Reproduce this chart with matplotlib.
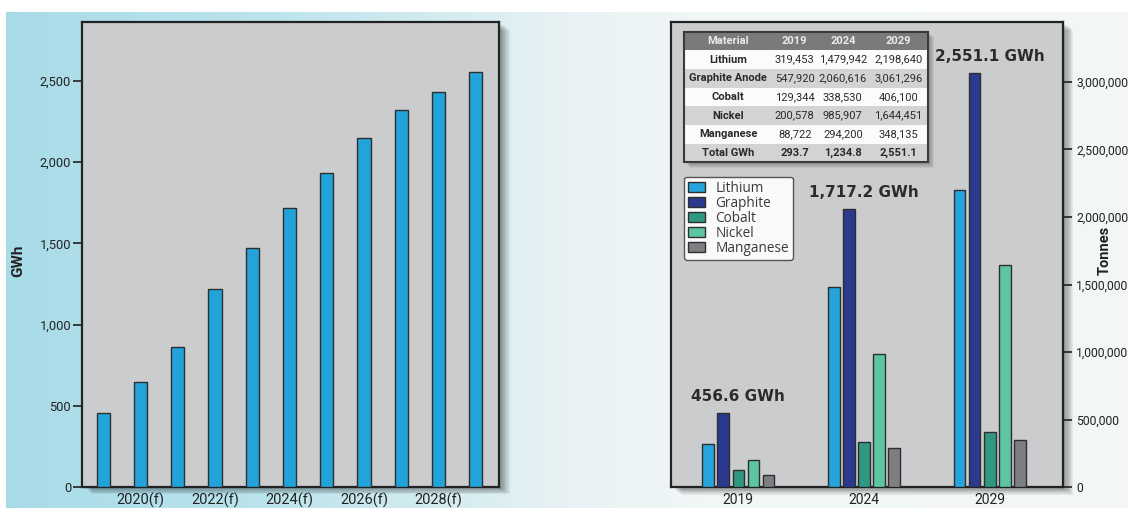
import numpy as np
import matplotlib
matplotlib.use("Agg")
import matplotlib.pyplot as plt
from matplotlib.patches import Rectangle
from matplotlib.ticker import FuncFormatter

# ---- data ----
gwh_years = list(range(2019, 2030))
gwh_demand = [456.6, 647, 862, 1216, 1468, 1717.2, 1934, 2145, 2320, 2429, 2551.1]
gwh_tick_years = [2020, 2022, 2024, 2026, 2028]
gwh_tick_labels = ['2020(f)', '2022(f)', '2024(f)', '2026(f)', '2028(f)']

material_years = ['2019', '2024', '2029']
materials = ['Lithium', 'Graphite Anode', 'Cobalt', 'Nickel', 'Manganese']
legend_labels = ['Lithium', 'Graphite', 'Cobalt', 'Nickel', 'Manganese']
lithium = [319453, 1479942, 2198640]
graphite = [547920, 2060616, 3061296]
cobalt = [129344, 338530, 406100]
nickel = [200578, 985907, 1644451]
manganese = [88722, 294200, 348135]
total_gwh = [293.7, 1234.8, 2551.1]

# ---- style ----
COND = 'Roboto'
INK = '#222222'
PANEL = '#cbccce'
BAR_BLUE = '#22a4da'
EDGE = '#2e2e2e'
series_colors = ['#25a5db', '#2b3a8e', '#2e9882', '#5dc5a2', '#7e7f83']

W, H = 1128, 508
fig = plt.figure(figsize=(W / 100, H / 100), dpi=100)
fig.patch.set_facecolor('white')

# soft blue-to-white backdrop
bg = fig.add_axes([0, 0, 1, 1], zorder=-10)
bg.set_xlim(0, W)
bg.set_ylim(0, H)
bg.axis('off')
xs = np.arange(W)
stops_x = [0, 250, 450, 560, 700, W]
stops_rgb = np.array([(168, 219, 232), (186, 227, 236), (213, 236, 240),
                      (232, 242, 244), (241, 246, 247), (243, 247, 248)])
grad = np.stack([np.interp(xs, stops_x, stops_rgb[:, c]) for c in range(3)], axis=-1) / 255.0
bg.imshow(grad[None, :, :], extent=(6, W, 0, H - 12), aspect='auto', interpolation='bilinear')


def px_axes(x0, y0_top, x1, y1_bottom):
    return fig.add_axes([x0 / W, (H - y1_bottom) / H, (x1 - x0) / W, (y1_bottom - y0_top) / H])


def drop_shadow(ax, steps=9, dx=1.15, dy=0.8, alpha=0.05):
    bb = ax.get_position()
    for k in range(1, steps + 1):
        fig.add_artist(Rectangle((bb.x0 + k * dx / W, bb.y0 - k * dy / H), bb.width, bb.height,
                                 transform=fig.transFigure, facecolor='black', alpha=alpha,
                                 edgecolor='none', zorder=-5))


def style_frame(ax):
    ax.set_facecolor(PANEL)
    for s in ax.spines.values():
        s.set_color(INK)
        s.set_linewidth(1.6)


thousands = FuncFormatter(lambda v, p: f"{int(v):,}")

# ---- left panel: total GWh ----
axL = px_axes(81.8, 22.3, 499.3, 487.0)
style_frame(axL)
drop_shadow(axL)
axL.bar(gwh_years, gwh_demand, width=0.355, color=BAR_BLUE, edgecolor=EDGE, linewidth=1.0, zorder=3)
axL.set_xlim(gwh_years[0] - 0.575, gwh_years[-1] + 0.63)
axL.set_ylim(0, 2860)
axL.set_yticks([0, 500, 1000, 1500, 2000, 2500])
axL.yaxis.set_major_formatter(thousands)
axL.set_xticks(gwh_tick_years)
axL.set_xticklabels(gwh_tick_labels)
axL.tick_params(axis='y', direction='out', length=6.2, width=1.2, pad=1.5, colors=INK,
                labelsize=9.3, labelfontfamily=COND)
axL.tick_params(axis='x', length=0, pad=4, colors=INK, labelsize=10.5, labelfontfamily=COND)
axL.set_ylabel('GWh', fontfamily=COND, fontweight='bold', fontsize=11, color=INK)
axL.yaxis.set_label_coords(-0.136, 0.486)

# ---- right panel: material tonnes ----
axR = px_axes(671.2, 22.3, 1062.9, 487.3)
style_frame(axR)
drop_shadow(axR)
series = [lithium, graphite, cobalt, nickel, manganese]
groups = np.arange(len(material_years))
offsets = (np.arange(len(series)) - 2) * 0.12
handles = []
for vals, off, col in zip(series, offsets, series_colors):
    h = axR.bar(groups + off, vals, width=0.092, color=col, edgecolor=EDGE, linewidth=1.0, zorder=3)
    handles.append(h)
axR.set_xlim(-0.534, 2.582)
axR.set_ylim(0, 3.44e6)
axR.set_xticks(groups)
axR.set_xticklabels(material_years)
axR.yaxis.tick_right()
axR.set_yticks([0, 500000, 1000000, 1500000, 2000000, 2500000, 3000000])
axR.yaxis.set_major_formatter(thousands)
axR.tick_params(axis='y', direction='out', length=6.5, width=1.2, pad=3.0, colors=INK,
                labelsize=8.7, labelfontfamily=COND, left=False, right=True)
axR.tick_params(axis='x', length=0, pad=4, colors=INK, labelsize=10, labelfontfamily=COND)
axR.yaxis.set_label_position('right')
axR.set_ylabel('Tonnes', fontfamily=COND, fontweight='bold', fontsize=10.5, color=INK)
axR.yaxis.set_label_coords(1.0896, 0.51)

# GWh callouts above each group, taken from the demand series
for i, yr in enumerate(material_years):
    val = gwh_demand[gwh_years.index(int(yr))]
    axR.annotate(f"{val:,.1f} GWh", xy=(groups[i], graphite[i]), xytext=(0, 12),
                 textcoords='offset points', ha='center', va='center',
                 fontsize=11, fontweight='bold', color='#2b2b2b', zorder=6)

# legend
leg = axR.legend(handles, legend_labels, loc='upper left', bbox_to_anchor=(0.0327, 0.668),
                 borderaxespad=0, frameon=True, fancybox=True, framealpha=1,
                 prop={'family': 'Open Sans', 'size': 9.8}, labelspacing=0.0,
                 handlelength=1.25, handleheight=0.85, handletextpad=0.75, borderpad=0.3)
leg.get_frame().set_edgecolor('#555555')
leg.get_frame().set_facecolor('#fafafa')
leg.get_frame().set_linewidth(1.0)
for t in leg.get_texts():
    t.set_color('#3a3a3a')
leg.set_zorder(7)

# data table
rows = [[name] + [f"{v:,}" for v in vals] for name, vals in zip(materials, series)]
rows.append(['Total GWh'] + [f"{v:,.1f}" for v in total_gwh])
tb_box = [0.0327, 0.699, 0.623, 0.281]
for k in range(1, 7):
    axR.add_patch(Rectangle((tb_box[0] + k * 1.0 / 391.7, tb_box[1] - k * 0.9 / 464.7),
                            tb_box[2], tb_box[3], transform=axR.transAxes, facecolor='black',
                            alpha=0.06, edgecolor='none', zorder=4))
tbl = axR.table(cellText=rows, colLabels=['Material'] + material_years, bbox=tb_box,
                colWidths=[0.362, 0.183, 0.212, 0.243], cellLoc='center')
tbl.auto_set_font_size(False)
tbl.set_zorder(5)
n_rows = len(rows)
for (r, c), cell in tbl.get_celld().items():
    cell.set_linewidth(0)
    cell.PAD = 0.02
    if r == 0:
        cell.set_facecolor('#7a7a7d')
        cell.set_text_props(color='#ececec', fontweight='bold', fontsize=8, fontfamily=COND)
    else:
        cell.set_facecolor('#fbfbfb' if r % 2 == 1 else '#d3d3d5')
        bold = (c == 0) or (r == n_rows)
        cell.set_text_props(color='#2a2a2a', fontweight='bold' if bold else 'normal',
                            fontsize=8, fontfamily=COND)
axR.add_patch(Rectangle((tb_box[0], tb_box[1]), tb_box[2], tb_box[3], transform=axR.transAxes,
                        facecolor='none', edgecolor='#3a3a3a', linewidth=1.5, zorder=6))

fig.savefig('out.png', dpi=100, facecolor=fig.get_facecolor())
